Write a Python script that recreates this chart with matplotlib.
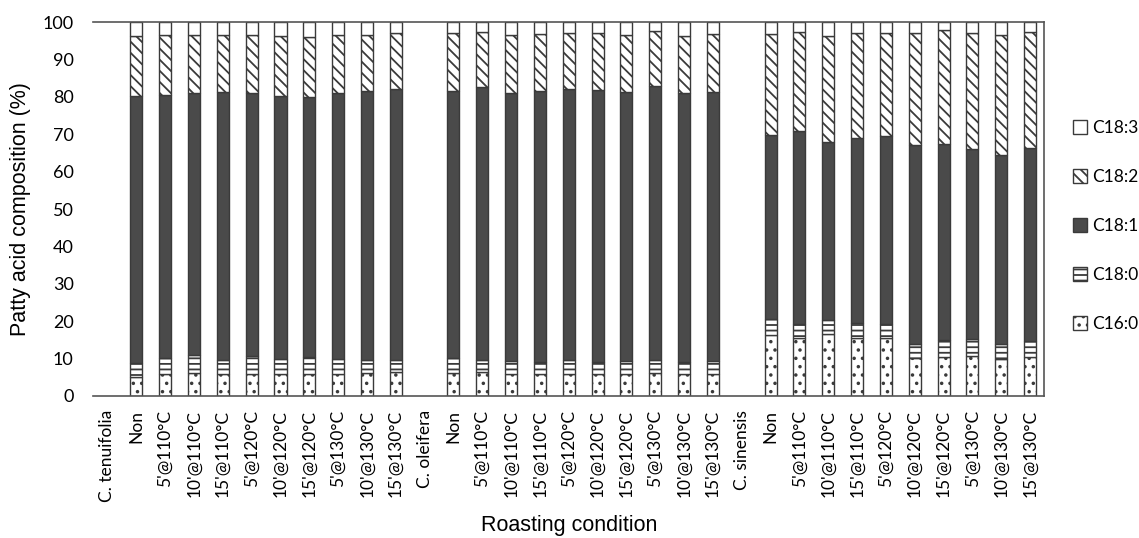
import matplotlib
matplotlib.use("Agg")
import matplotlib.pyplot as plt
import numpy as np

plt.rcParams["hatch.linewidth"] = 1.3

conditions = ["Non", "5'@110°C", "10'@110°C", "15'@110°C", "5'@120°C",
              "10'@120°C", "15'@120°C", "5'@130°C", "10'@130°C", "15'@130°C"]
species = ["C. tenuifolia", "C. oleifera", "C. sinensis"]

# cumulative tops, per species (10 conditions each)
c16_top = [
    [5.1, 6.0, 6.2, 6.0, 6.0, 5.8, 6.0, 6.0, 6.2, 6.3],
    [6.2, 6.4, 6.0, 5.8, 6.0, 5.9, 6.0, 6.1, 5.8, 6.0],
    [16.3, 15.5, 16.5, 15.6, 15.4, 10.1, 10.5, 10.8, 9.8, 10.4],
]
c180_top = [
    [8.8, 10.2, 11.0, 9.6, 10.6, 9.8, 10.3, 9.8, 9.6, 9.7],
    [10.1, 9.6, 9.3, 9.1, 9.6, 9.2, 9.4, 9.7, 9.1, 9.4],
    [20.5, 19.2, 20.4, 19.4, 19.2, 14.0, 15.0, 15.2, 14.0, 14.8],
]
c181_top = [
    [80.1, 80.5, 81.1, 81.3, 81.1, 80.3, 80.0, 80.9, 81.5, 82.1],
    [81.5, 82.6, 81.0, 81.5, 82.2, 81.8, 81.2, 83.0, 81.0, 81.3],
    [69.8, 70.9, 68.0, 69.0, 69.5, 67.1, 67.4, 66.0, 64.4, 66.2],
]
c182_top = [
    [96.4, 96.5, 96.5, 96.6, 96.6, 96.2, 96.1, 96.5, 96.6, 97.1],
    [97.0, 97.4, 96.5, 96.9, 97.1, 97.0, 96.5, 97.5, 96.4, 96.8],
    [96.8, 97.4, 96.3, 97.0, 97.2, 97.2, 97.8, 97.0, 96.5, 97.4],
]
c183_top = 100.0

labels = []
for sp in species:
    labels.append(sp)
    labels.extend(conditions)

x = np.arange(len(labels))
edge = "#3a3a3a"
width = 0.42

fig = plt.figure(figsize=(11.39, 5.38), dpi=100)
ax = fig.add_axes([0.0817, 0.264, 0.8353, 0.695])

handles = {}
for g in range(len(species)):
    xs = x[g * 11 + 1:g * 11 + 11]
    t16 = np.array(c16_top[g])
    t180 = np.array(c180_top[g])
    t181 = np.array(c181_top[g])
    t182 = np.array(c182_top[g])
    t183 = np.full(len(xs), c183_top)
    handles["C16:0"] = ax.bar(xs, t16, width, color="white", edgecolor=edge,
                              hatch="..", linewidth=1.0)
    handles["C18:0"] = ax.bar(xs, t180 - t16, width, bottom=t16, color="white",
                              edgecolor=edge, hatch="---", linewidth=1.0)
    handles["C18:1"] = ax.bar(xs, t181 - t180, width, bottom=t180, color="#4a4a4a",
                              edgecolor=edge, linewidth=1.0)
    handles["C18:2"] = ax.bar(xs, t182 - t181, width, bottom=t181, color="white",
                              edgecolor=edge, hatch="\\\\\\", linewidth=1.0)
    handles["C18:3"] = ax.bar(xs, t183 - t182, width, bottom=t182, color="white",
                              edgecolor=edge, linewidth=1.0)

ax.set_xlim(-0.5, len(labels) - 0.5)
ax.set_ylim(0, 100)
ax.set_yticks(np.arange(0, 101, 10))
ax.set_xticks(x)
ax.set_xticklabels(labels, rotation=90, fontsize=12.5, family="Lato")
for t in ax.get_yticklabels():
    t.set_fontsize(13)
    t.set_family("Lato")
ax.tick_params(length=0)
ax.tick_params(axis="x", pad=10)
ax.tick_params(axis="y", pad=14)
ax.spines["left"].set_visible(False)
for s in ["top", "right", "bottom"]:
    ax.spines[s].set_color("#555555")
    ax.spines[s].set_linewidth(1.2)

ax.set_ylabel("Patty acid composition (%)", fontsize=15.5, family="Liberation Sans",
              labelpad=8)
ax.set_xlabel("Roasting condition", fontsize=15.5, family="Liberation Sans", labelpad=9)

order = ["C18:3", "C18:2", "C18:1", "C18:0", "C16:0"]
fig.legend([handles[k] for k in order], order, loc="center left",
           bbox_to_anchor=(0.928, 0.58), frameon=False,
           labelspacing=1.9, handlelength=0.8, handleheight=0.8,
           handletextpad=0.3, prop={"family": "Lato", "size": 12.5})

fig.savefig("out.png", dpi=100)
